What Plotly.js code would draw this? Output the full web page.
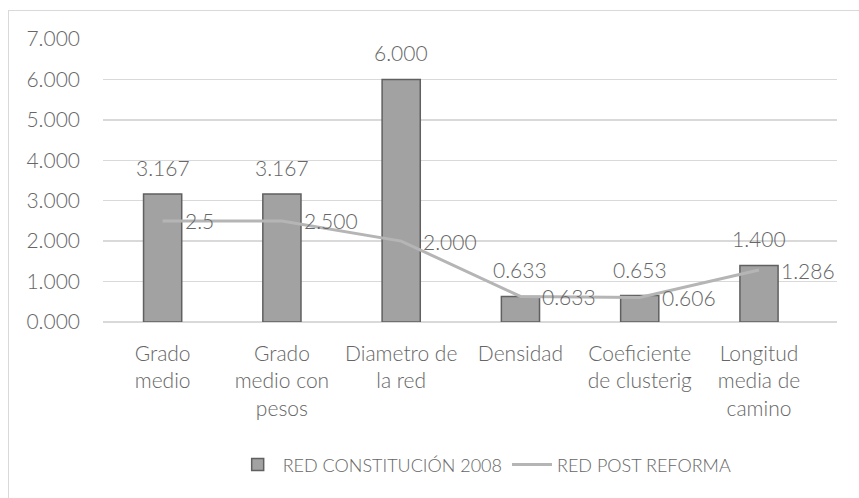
<!DOCTYPE html>
<html>
<head>
<meta charset="utf-8">
<script src="https://cdn.plot.ly/plotly-3.0.1.min.js"></script>
<style>
html,body{margin:0;padding:0;background:#fff;overflow:hidden;}
#wrap{position:relative;width:859px;height:498px;}
#chart{position:absolute;left:0;top:0;width:859px;height:498px;}
#frame{position:absolute;left:8px;top:10px;width:860px;height:500px;border:1px solid #d9d9d9;pointer-events:none;}
</style>
</head>
<body>
<div id="wrap"><div id="chart"></div><div id="frame"></div></div>
<script>
const categories = ["Grado<br>medio", "Grado<br>medio con<br>pesos", "Diametro de<br>la red", "Densidad", "Coeficiente<br>de clusterig", "Longitud<br>media de<br>camino"];
const red2008 = [3.167, 3.167, 6.000, 0.633, 0.653, 1.400];
const red2008Labels = ["3.167", "3.167", "6.000", "0.633", "0.653", "1.400"];
const redPost = [2.5, 2.5, 2.0, 0.633, 0.606, 1.286];
const redPostLabels = ["2.5", "2.500", "2.000", "0.633", "0.606", "1.286"];
const yTicks = [0, 1, 2, 3, 4, 5, 6, 7];
const yTickLabels = ["0.000", "1.000", "2.000", "3.000", "4.000", "5.000", "6.000", "7.000"];

const FONT = "Lato, 'Open Sans', sans-serif";
const TXT = "#666666";
const W = 300;

const traces = [
  {
    type: "bar", name: "RED CONSTITUCIÓN 2008",
    x: categories, y: red2008,
    width: 0.32,
    marker: {color: "#a2a2a2", line: {color: "#606060", width: 1.5}},
    hoverinfo: "skip"
  },
  {
    type: "scatter", mode: "lines", name: "RED POST REFORMA",
    x: categories, y: redPost,
    line: {color: "#b5b5b5", width: 3},
    hoverinfo: "skip"
  }
];

const annotations = [];
categories.forEach((c, i) => {
  annotations.push({x: c, y: red2008[i], xref: "x", yref: "y", text: red2008Labels[i],
    showarrow: false, yanchor: "bottom", yshift: 12, font: {family: FONT, size: 21, color: TXT, weight: W}});
  annotations.push({x: c, y: redPost[i], xref: "x", yref: "y", text: redPostLabels[i],
    showarrow: false, xanchor: "left", yanchor: "middle", xshift: 20, font: {family: FONT, size: 21, color: TXT, weight: W}});
});

const layout = {
  width: 859, height: 498,
  margin: {l: 103, r: 22, t: 39, b: 176},
  paper_bgcolor: "#fff", plot_bgcolor: "#fff",
  font: {family: FONT, size: 21, color: TXT, weight: W},
  showlegend: true,
  legend: {orientation: "h", x: 0.52, xanchor: "center", y: -0.505, yanchor: "middle",
    font: {family: FONT, size: 18, color: TXT, weight: W}, traceorder: "normal", itemwidth: 40},
  xaxis: {type: "category", showgrid: false, showline: false, zeroline: false, ticks: "",
    tickfont: {family: FONT, size: 21, color: TXT, weight: W}, ticklabelstandoff: 17, automargin: false},
  yaxis: {range: [0, 7], tickvals: yTicks, ticktext: yTickLabels, showgrid: true,
    gridcolor: "#d9d9d9", gridwidth: 1.5, zeroline: true, zerolinecolor: "#d9d9d9", zerolinewidth: 1.5,
    showline: false, ticks: "", tickfont: {family: FONT, size: 21, color: TXT, weight: W}, ticklabelstandoff: 22, automargin: false},
  annotations: annotations,
  bargap: 0.68
};

Plotly.newPlot("chart", traces, layout, {displayModeBar: false, staticPlot: true});
</script>
</body>
</html>
